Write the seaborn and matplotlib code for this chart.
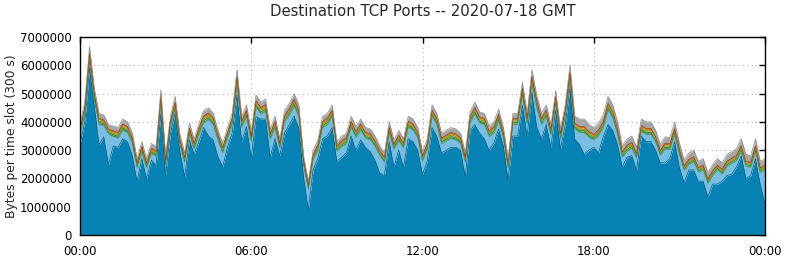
import numpy as np
import pandas as pd
import matplotlib
matplotlib.use("Agg")
import matplotlib.pyplot as plt
import matplotlib.dates as mdates
import seaborn as sns

# ---- data (10-minute resolution) ----
times = pd.date_range("2020-07-18 00:00", "2020-07-19 00:00", freq="10min")

# Top of the dominant (dark blue) series, in millions of bytes
blue_m = [
    3.20, 4.00, 5.90, 4.60, 3.20, 3.47, 2.50, 3.15, 3.10, 3.40,
    3.30, 2.80, 1.90, 2.70, 2.00, 2.65, 2.47, 4.30, 2.12, 3.60,
    4.30, 2.95, 2.06, 3.36, 2.85, 3.30, 3.80, 3.50, 3.36, 2.77,
    2.41, 3.10, 3.60, 4.95, 3.30, 3.83, 2.72, 4.18, 4.10, 4.10,
    2.75, 3.40, 2.80, 3.60, 3.90, 4.20, 3.80, 2.06, 0.90, 2.30,
    2.70, 3.40, 3.50, 3.80, 2.60, 2.75, 2.90, 3.50, 3.00, 3.36,
    3.10, 2.95, 2.65, 2.20, 2.10, 3.30, 2.41, 3.00, 2.40, 3.40,
    3.30, 3.00, 2.15, 2.60, 3.80, 3.50, 2.90, 3.00, 3.10, 3.10,
    3.00, 2.06, 3.71, 3.90, 3.60, 3.40, 3.00, 3.25, 3.75, 3.15,
    1.95, 3.50, 3.50, 4.60, 3.50, 5.05, 3.83, 3.40, 3.90, 3.10,
    4.40, 3.05, 3.90, 5.20, 3.40, 3.20, 2.85, 3.00, 3.10, 2.90,
    3.47, 3.90, 3.70, 3.20, 2.40, 2.75, 2.80, 2.30, 3.50, 3.30,
    3.30, 3.00, 2.55, 2.55, 2.70, 3.30, 2.40, 1.85, 2.30, 2.30,
    1.90, 1.90, 1.35, 1.80, 1.80, 1.90, 2.10, 2.15, 2.40, 2.80,
    2.00, 2.10, 2.70, 1.80, 1.10,
]

# Total of all ports (top of the grey band), in millions of bytes
total_m = [
    3.90, 4.70, 6.66, 5.20, 4.30, 4.24, 3.90, 3.85, 3.80, 4.10,
    4.00, 3.60, 2.70, 3.30, 2.70, 3.24, 3.12, 5.13, 2.80, 4.20,
    4.90, 3.55, 2.90, 3.95, 3.40, 3.95, 4.40, 4.50, 4.30, 3.71,
    3.24, 3.80, 4.30, 5.85, 4.20, 4.60, 3.65, 4.95, 4.70, 4.80,
    3.75, 4.20, 3.40, 4.40, 4.65, 5.00, 4.60, 2.80, 1.90, 3.00,
    3.35, 4.20, 4.30, 4.60, 3.30, 3.50, 3.60, 4.20, 3.83, 4.10,
    3.80, 3.75, 3.50, 3.15, 2.90, 4.00, 3.36, 3.70, 3.40, 4.20,
    4.10, 3.80, 2.95, 3.40, 4.60, 4.30, 3.60, 3.70, 3.80, 3.75,
    3.60, 2.90, 4.36, 4.70, 4.35, 4.30, 3.85, 4.00, 4.45, 3.80,
    2.70, 4.30, 4.30, 5.40, 4.30, 5.85, 4.95, 4.30, 4.60, 3.90,
    5.10, 3.75, 4.60, 6.00, 4.20, 4.10, 4.10, 3.90, 3.80, 3.95,
    4.24, 4.90, 4.60, 4.00, 3.15, 3.40, 3.50, 3.10, 4.10, 4.00,
    4.00, 3.70, 3.20, 3.47, 3.45, 4.00, 3.25, 2.65, 2.90, 3.00,
    2.60, 2.70, 2.20, 2.50, 2.70, 2.55, 2.85, 2.95, 3.05, 3.40,
    2.85, 2.80, 3.40, 2.60, 2.70,
]

# Thin intermediate bands, in thousands of bytes
green_k = [
    70, 80, 90, 80, 70, 70, 60, 70, 70, 70,
    70, 60, 60, 70, 60, 65, 60, 80, 60, 70,
    80, 70, 60, 70, 65, 70, 75, 75, 70, 65,
    60, 70, 70, 90, 70, 75, 65, 80, 75, 75,
    65, 70, 60, 70, 75, 80, 75, 60, 50, 60,
    65, 70, 70, 75, 60, 65, 65, 70, 70, 70,
    70, 65, 65, 60, 60, 70, 60, 65, 60, 70,
    70, 65, 60, 65, 75, 70, 65, 65, 70, 70,
    65, 60, 70, 75, 70, 70, 65, 70, 75, 65,
    55, 70, 70, 85, 70, 90, 80, 70, 75, 65,
    80, 65, 75, 90, 70, 70, 70, 65, 65, 65,
    70, 80, 75, 70, 60, 65, 65, 60, 70, 70,
    70, 65, 60, 65, 65, 70, 60, 55, 60, 60,
    55, 55, 50, 55, 55, 55, 60, 60, 60, 65,
    60, 60, 65, 55, 55,
]
lgreen_k = [
    50, 60, 70, 60, 50, 50, 45, 50, 50, 55,
    55, 50, 45, 50, 45, 50, 45, 60, 45, 55,
    60, 50, 45, 55, 50, 55, 60, 60, 55, 50,
    45, 55, 55, 70, 55, 60, 50, 65, 60, 60,
    50, 55, 45, 55, 60, 65, 60, 45, 40, 45,
    50, 55, 55, 60, 45, 50, 50, 55, 55, 55,
    55, 50, 50, 45, 45, 55, 45, 50, 45, 55,
    55, 50, 45, 50, 60, 55, 50, 50, 55, 55,
    50, 45, 55, 60, 55, 55, 50, 55, 60, 50,
    45, 55, 55, 65, 55, 70, 60, 55, 60, 50,
    60, 50, 60, 70, 55, 55, 55, 50, 50, 50,
    55, 60, 60, 55, 45, 50, 50, 45, 55, 55,
    55, 50, 45, 50, 50, 55, 45, 40, 45, 45,
    40, 40, 40, 40, 40, 45, 45, 45, 45, 50,
    45, 45, 50, 40, 40,
]
orange_k = [
    60, 70, 80, 70, 60, 55, 50, 55, 55, 60,
    60, 55, 45, 55, 45, 55, 50, 70, 50, 60,
    70, 55, 50, 60, 55, 60, 65, 65, 60, 55,
    50, 60, 60, 80, 60, 65, 55, 70, 65, 65,
    55, 60, 50, 60, 65, 70, 65, 50, 40, 50,
    55, 60, 60, 65, 50, 55, 55, 60, 60, 60,
    60, 55, 55, 50, 50, 60, 50, 55, 50, 60,
    60, 55, 50, 55, 65, 60, 55, 55, 60, 60,
    55, 50, 60, 65, 60, 60, 55, 60, 65, 55,
    50, 60, 60, 70, 60, 75, 65, 60, 65, 55,
    65, 55, 65, 75, 60, 60, 60, 55, 55, 55,
    60, 65, 65, 60, 50, 55, 55, 50, 60, 60,
    60, 55, 50, 55, 55, 60, 50, 45, 50, 50,
    45, 45, 45, 45, 45, 50, 50, 50, 50, 55,
    50, 50, 55, 45, 45,
]
red_k = [
    35, 40, 50, 40, 35, 35, 30, 35, 35, 35,
    35, 35, 30, 35, 30, 35, 30, 40, 30, 35,
    40, 35, 30, 35, 35, 35, 40, 40, 35, 35,
    30, 35, 35, 50, 35, 40, 35, 40, 40, 40,
    35, 35, 30, 35, 40, 40, 40, 30, 25, 30,
    35, 35, 35, 40, 30, 35, 35, 35, 35, 35,
    35, 35, 35, 30, 30, 35, 30, 35, 30, 35,
    35, 35, 30, 35, 40, 35, 35, 35, 35, 35,
    35, 30, 35, 40, 35, 35, 35, 35, 40, 35,
    30, 35, 35, 40, 35, 45, 40, 35, 40, 35,
    40, 35, 40, 45, 35, 35, 35, 35, 35, 35,
    35, 40, 40, 35, 30, 35, 35, 30, 35, 35,
    35, 35, 30, 35, 35, 35, 30, 30, 30, 30,
    30, 30, 30, 30, 30, 30, 30, 30, 30, 35,
    30, 30, 35, 30, 30,
]
gray_k = [
    170, 200, 230, 200, 180, 170, 160, 170, 170, 175,
    175, 170, 160, 170, 160, 170, 160, 200, 160, 180,
    200, 170, 160, 180, 170, 180, 190, 190, 180, 170,
    160, 175, 180, 230, 180, 190, 170, 200, 190, 190,
    170, 180, 160, 180, 190, 200, 190, 160, 140, 160,
    170, 180, 180, 190, 160, 170, 170, 180, 175, 180,
    175, 170, 170, 160, 160, 180, 160, 170, 160, 180,
    180, 170, 160, 170, 190, 180, 170, 170, 175, 175,
    170, 160, 180, 190, 180, 180, 170, 180, 190, 170,
    160, 180, 180, 210, 180, 230, 200, 180, 190, 170,
    200, 170, 190, 230, 250, 260, 270, 250, 240, 240,
    240, 250, 240, 230, 220, 230, 230, 220, 230, 230,
    230, 220, 210, 230, 230, 240, 220, 210, 230, 230,
    220, 230, 220, 230, 230, 230, 240, 240, 240, 250,
    240, 230, 250, 230, 230,
]

title = "Destination TCP Ports -- 2020-07-18 GMT"
ylabel = "Bytes per time slot (300 s)"

# ---- build table ----
df = pd.DataFrame({
    "time": times,
    "blue": np.array(blue_m) * 1e6,
    "total": np.array(total_m) * 1e6,
    "green": np.array(green_k) * 1e3,
    "lgreen": np.array(lgreen_k) * 1e3,
    "orange": np.array(orange_k) * 1e3,
    "red": np.array(red_k) * 1e3,
    "gray": np.array(gray_k) * 1e3,
})
# light blue band = what remains between the blue series and the other bands
df["lblue"] = df["total"] - df["blue"] - df[["green", "lgreen", "orange", "red", "gray"]].sum(axis=1)

order = ["blue", "lblue", "green", "lgreen", "orange", "red", "gray"]
colors = ["#0683b4", "#78bde2", "#3f9a34", "#75bb48", "#f0a020", "#c8521a", "#a6a6a6"]
edges = ["#055f85", "#5a9cc0", "#2f7a28", "#5a9a38", "#c07c10", "#9a3a10", "#8a8a8a"]

sns.set_style("white")
plt.rcParams["font.family"] = ["DejaVu Sans"]

fig = plt.figure(figsize=(7.86, 2.60), dpi=100)
ax = fig.add_axes([80 / 786, 25 / 260, 685 / 786, 198 / 260])

stack_base = np.zeros(len(df))
for name, c in zip(order, colors):
    top = stack_base + df[name].values
    ax.fill_between(df["time"], stack_base, top, color=c, linewidth=0, zorder=2)
    stack_base = top
# thin outlines of the band tops
stack_base = np.zeros(len(df))
for name, ec in zip(order, edges):
    stack_base = stack_base + df[name].values
    sns.lineplot(x=df["time"], y=stack_base, color=ec, linewidth=0.5, ax=ax,
                 zorder=3, legend=False)

ax.set_xlim(times[0], times[-1])
ax.set_ylim(0, 7_000_000)
ax.set_yticks(np.arange(0, 7_000_001, 1_000_000))
ax.yaxis.set_major_formatter(matplotlib.ticker.FuncFormatter(lambda v, p: f"{int(v)}"))
ax.xaxis.set_major_locator(mdates.HourLocator(byhour=[0, 6, 12, 18]))
ax.xaxis.set_major_formatter(mdates.DateFormatter("%H:%M"))

ax.grid(True, color="#b0b0b0", linestyle=(0, (1, 3)), linewidth=0.8)
ax.set_axisbelow(True)
ax.tick_params(direction="in", length=4, width=1, top=True, right=True,
               labelsize=8.5, colors="black", pad=6)
ax.tick_params(axis="x", pad=7)
for s in ax.spines.values():
    s.set_color("black")
    s.set_linewidth(1)
    s.set_zorder(5)

ax.set_xlabel("")
ax.set_ylabel(ylabel, fontsize=8.8)
ax.yaxis.set_label_coords((18.5 - 80) / 685, 0.5)
ax.set_title(title, fontsize=10.7, pad=15)

fig.savefig("out.png", dpi=100, facecolor="white")
